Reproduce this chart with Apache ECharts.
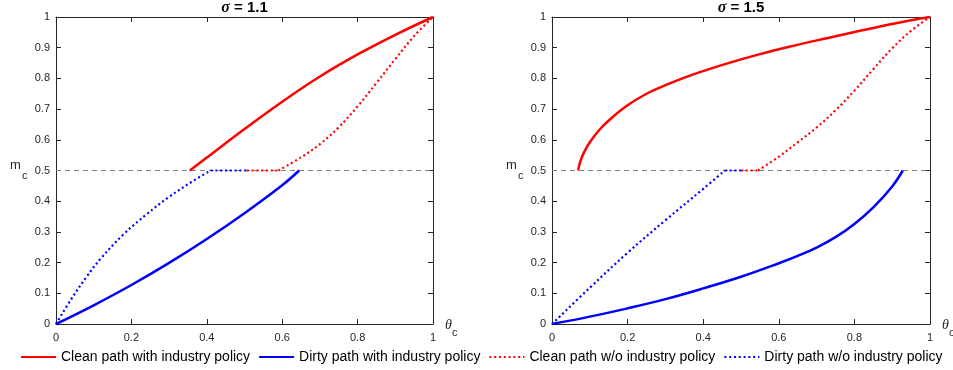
<!DOCTYPE html>
<html>
<head>
<meta charset="utf-8">
<script src="https://cdn.jsdelivr.net/npm/echarts/dist/echarts.min.js"></script>
<style>
html,body{margin:0;padding:0;background:#fff;}
#chart{width:953px;height:370px;}
</style>
</head>
<body>
<div id="chart"></div>
<script>
// ---- data (theta_c, m_c) ----
const titles = ['1.1', '1.5'];
const legendNames = ['Clean path with industry policy', 'Dirty path with industry policy', 'Clean path w/o industry policy', 'Dirty path w/o industry policy'];
const threshold = [[0, 0.5], [1, 0.5]];

// sigma = 1.1
const cleanWithA = [[0.355,0.5],[0.4,0.542],[0.5,0.635],[0.6,0.724],[0.7,0.806],[0.8,0.878],[0.9,0.942],[1,1]];
const dirtyWithA = [[0,0],[0.1,0.061],[0.2,0.127],[0.3,0.199],[0.4,0.277],[0.5,0.361],[0.6,0.452],[0.645,0.5]];
const cleanWoFlatA = [[0.506,0.5],[0.59,0.5]];
const cleanWoA = [[0.59,0.5],[0.65,0.543],[0.7,0.586],[0.75,0.641],[0.8,0.709],[0.85,0.785],[0.9,0.863],[0.95,0.938],[1,1]];
const dirtyWoA = [[0,0],[0.04,0.08],[0.08,0.152],[0.12,0.215],[0.18,0.293],[0.24,0.357],[0.3,0.414],[0.36,0.463],[0.41,0.5]];
const dirtyWoFlatA = [[0.41,0.5],[0.506,0.5]];

// sigma = 1.5
const cleanWithB = [[0.069,0.5],[0.075,0.53],[0.085,0.56],[0.1,0.592],[0.125,0.632],[0.153,0.666],[0.197,0.71],[0.25,0.75],[0.3,0.778],[0.374,0.813],[0.462,0.848],[0.55,0.879],[0.638,0.906],[0.727,0.931],[0.815,0.955],[0.903,0.978],[1,1]];
const dirtyWithB = [[0,0],[0.1,0.024],[0.2,0.051],[0.3,0.081],[0.4,0.116],[0.5,0.154],[0.6,0.198],[0.65,0.222],[0.7,0.249],[0.75,0.283],[0.8,0.326],[0.85,0.38],[0.9,0.448],[0.928,0.5]];
const cleanWoFlatB = [[0.5,0.5],[0.545,0.5]];
const cleanWoB = [[0.545,0.5],[0.6,0.545],[0.65,0.592],[0.7,0.64],[0.75,0.696],[0.8,0.76],[0.85,0.83],[0.9,0.898],[0.95,0.955],[1,1]];
const dirtyWoB = [[0,0],[0.1,0.118],[0.2,0.232],[0.3,0.338],[0.4,0.44],[0.457,0.5]];
const dirtyWoFlatB = [[0.457,0.5],[0.5,0.5]];

const panels = [
  {clean: cleanWithA, dirty: dirtyWithA, cleanWo: cleanWoA, cleanWoFlat: cleanWoFlatA, dirtyWo: dirtyWoA, dirtyWoFlat: dirtyWoFlatA},
  {clean: cleanWithB, dirty: dirtyWithB, cleanWo: cleanWoB, cleanWoFlat: cleanWoFlatB, dirtyWo: dirtyWoB, dirtyWoFlat: dirtyWoFlatB}
];

const AX = '#262626';
const FONT = '"Liberation Sans", Arial, Helvetica, sans-serif';
const SERIF = '"Liberation Serif", "DejaVu Serif", serif';
const grids = [
  {left: 56, top: 17, width: 377, height: 307},
  {left: 552, top: 17, width: 378, height: 307}
];

function xAx(g, pos, labels) {
  return {
    type: 'value', gridIndex: g, position: pos, min: 0, max: 1, interval: 0.2,
    axisLine: {show: true, onZero: false, lineStyle: {color: AX, width: 1}},
    axisTick: {show: true, inside: true, length: 5, lineStyle: {color: AX}},
    axisLabel: {show: labels, color: AX, fontSize: 11, fontFamily: FONT, margin: 8},
    splitLine: {show: false}
  };
}
function yAx(g, pos, labels) {
  return {
    type: 'value', gridIndex: g, position: pos, min: 0, max: 1, interval: 0.1,
    axisLine: {show: true, onZero: false, lineStyle: {color: AX, width: 1}},
    axisTick: {show: true, inside: true, length: 5, lineStyle: {color: AX}},
    axisLabel: {show: labels, color: AX, fontSize: 11, fontFamily: FONT, margin: 6},
    splitLine: {show: false}
  };
}

const RED = '#ff0000', BLUE = '#0000ff';
const DOT = [2, 2.8];
const xAxes = [], yAxes = [], series = [], titleArr = [], graphics = [];
panels.forEach((p, i) => {
  xAxes.push(xAx(i, 'bottom', true), xAx(i, 'top', false));
  yAxes.push(yAx(i, 'left', true), yAx(i, 'right', false));
  const xi = i * 2, yi = i * 2;
  const base = {type: 'line', xAxisIndex: xi, yAxisIndex: yi, symbol: 'none', showSymbol: false, clip: false, animation: false};
  const add = (o) => series.push(Object.assign({}, base, o));
  add({name: '_thr' + i, data: threshold, z: 1, lineStyle: {color: '#808080', width: 1, type: [5, 4]}});
  add({name: legendNames[0], data: p.clean, smooth: 0.4, z: 3, lineStyle: {color: RED, width: 2.5}, itemStyle: {color: RED}});
  add({name: legendNames[1], data: p.dirty, smooth: 0.4, z: 3, lineStyle: {color: BLUE, width: 2.5}, itemStyle: {color: BLUE}});
  add({name: legendNames[2], data: p.cleanWo, smooth: 0.4, z: 2, lineStyle: {color: RED, width: 2.2, type: DOT}, itemStyle: {color: RED}});
  add({name: legendNames[2], data: p.cleanWoFlat, z: 2, lineStyle: {color: RED, width: 2.2, type: DOT}, itemStyle: {color: RED}});
  add({name: legendNames[3], data: p.dirtyWo, smooth: 0.4, z: 2, lineStyle: {color: BLUE, width: 2.2, type: DOT}, itemStyle: {color: BLUE}});
  add({name: legendNames[3], data: p.dirtyWoFlat, z: 2, lineStyle: {color: BLUE, width: 2.2, type: DOT}, itemStyle: {color: BLUE}});

  const g = grids[i];
  titleArr.push({
    text: '{i|σ}{b| = ' + titles[i] + '}',
    left: g.left + g.width / 2, top: 0, textAlign: 'center', padding: 0,
    textStyle: {rich: {
      i: {fontFamily: SERIF, fontStyle: 'italic', fontSize: 16, color: '#000'},
      b: {fontFamily: FONT, fontWeight: 'bold', fontSize: 15, color: '#000'}
    }}
  });
  graphics.push({type: 'text', left: g.left - 46, top: 159, style: {text: 'm', fontSize: 13, fontFamily: FONT, fill: AX}});
  graphics.push({type: 'text', left: g.left - 34, top: 170, style: {text: 'c', fontSize: 11, fontFamily: FONT, fill: AX}});
  graphics.push({type: 'text', left: g.left + g.width + 12, top: 318, style: {text: 'θ', fontSize: 14, fontStyle: 'italic', fontFamily: SERIF, fill: AX}});
  graphics.push({type: 'text', left: g.left + g.width + 19, top: 327, style: {text: 'c', fontSize: 11, fontFamily: FONT, fill: AX}});
});

const chart = echarts.init(document.getElementById('chart'), null, {renderer: 'canvas'});
chart.setOption({
  animation: false,
  backgroundColor: '#fff',
  title: titleArr,
  grid: grids,
  xAxis: xAxes,
  yAxis: yAxes,
  legend: {
    data: legendNames, left: 20, top: 350, padding: 0, itemWidth: 35, itemHeight: 14, itemGap: 8,
    itemStyle: {opacity: 0},
    textStyle: {fontSize: 14, fontFamily: FONT, color: '#000'},
    selectedMode: false
  },
  graphic: graphics,
  series: series
});
</script>
</body>
</html>
